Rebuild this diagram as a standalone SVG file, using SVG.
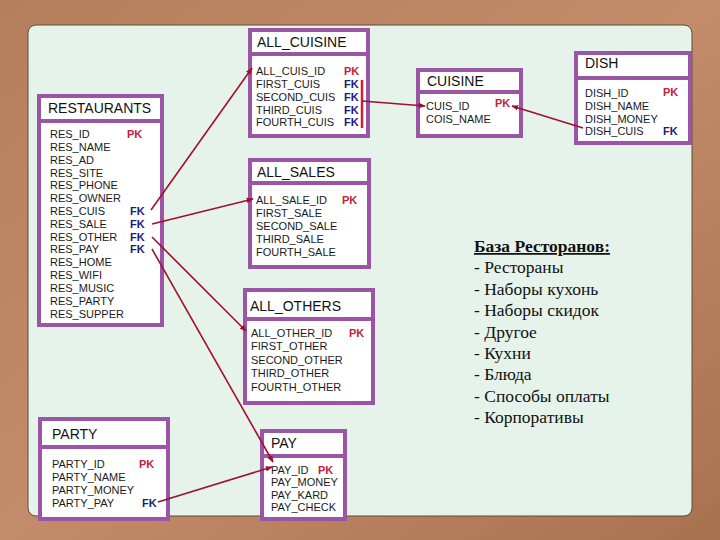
<svg xmlns="http://www.w3.org/2000/svg" width="720" height="540" viewBox="0 0 720 540">
<defs>
<linearGradient id="wood" x1="0" y1="0" x2="1" y2="1">
<stop offset="0" stop-color="#b57f5c"/>
<stop offset="0.5" stop-color="#c28c6a"/>
<stop offset="1" stop-color="#a8714f"/>
</linearGradient>
<marker id="arr" viewBox="0 0 10 10" refX="9" refY="5" markerWidth="7" markerHeight="7" orient="auto" markerUnits="userSpaceOnUse">
<path d="M0,1 L10,5 L0,9 z" fill="#a0102a"/>
</marker>
<style>
.tb{fill:#ffffff;stroke:#9b55a5;stroke-width:4}
.sep{stroke:#9b55a5;stroke-width:4}
.ttl{font-family:"Liberation Sans",Arial,sans-serif;font-size:14px;fill:#111}
.fld{font-family:"Liberation Sans",Arial,sans-serif;font-size:11px;fill:#1a1a1a}
.pk{font-family:"Liberation Sans",Arial,sans-serif;font-size:11px;font-weight:bold;fill:#c8203a}
.fk{font-family:"Liberation Sans",Arial,sans-serif;font-size:11px;font-weight:bold;fill:#1c1c7a}
.con{stroke:#a0102a;stroke-width:1.6;fill:none}
.note{font-family:"Liberation Serif","Times New Roman",serif;font-size:17.5px;fill:#111}
</style>
</defs>
<rect x="0" y="0" width="720" height="540" fill="url(#wood)"/>
<rect x="28" y="25" width="664" height="491" rx="8" ry="8" fill="#e6f3ea" stroke="#5a4a3a" stroke-width="1"/>

<g id="ALL_CUISINE">
<rect class="tb" x="250" y="30" width="118" height="106"/>
<line class="sep" x1="250" y1="54" x2="368" y2="54"/>
<text class="ttl" x="257" y="47">ALL_CUISINE</text>
<text class="fld" x="256" y="75">ALL_CUIS_ID</text>
<text class="fld" x="256" y="88">FIRST_CUIS</text>
<text class="fld" x="256" y="101">SECOND_CUIS</text>
<text class="fld" x="256" y="114">THIRD_CUIS</text>
<text class="fld" x="256" y="126">FOURTH_CUIS</text>
<text class="pk" x="344" y="75">PK</text>
<text class="fk" x="344" y="88">FK</text>
<text class="fk" x="344" y="101">FK</text>
<text class="fk" x="344" y="114">FK</text>
<text class="fk" x="344" y="126">FK</text>
<line x1="362" y1="80" x2="362" y2="128" stroke="#d02030" stroke-width="2.5"/>
</g>

<g id="CUISINE">
<rect class="tb" x="418" y="70" width="103" height="66"/>
<line class="sep" x1="418" y1="92" x2="521" y2="92"/>
<text class="ttl" x="427" y="86">CUISINE</text>
<text class="fld" x="426" y="110">CUIS_ID</text>
<text class="fld" x="426" y="123">COIS_NAME</text>
<text class="pk" x="495" y="107">PK</text>
</g>

<g id="DISH">
<rect class="tb" x="576" y="53" width="114" height="90"/>
<line class="sep" x1="576" y1="78" x2="690" y2="78"/>
<text class="ttl" x="585" y="68">DISH</text>
<text class="fld" x="585" y="97">DISH_ID</text>
<text class="fld" x="585" y="110">DISH_NAME</text>
<text class="fld" x="585" y="123">DISH_MONEY</text>
<text class="fld" x="585" y="135">DISH_CUIS</text>
<text class="pk" x="663" y="96">PK</text>
<text class="fk" x="663" y="135">FK</text>
</g>

<g id="RESTAURANTS">
<rect class="tb" x="39" y="96" width="123" height="229"/>
<line class="sep" x1="39" y1="121" x2="162" y2="121"/>
<text class="ttl" x="48" y="113">RESTAURANTS</text>
<text class="fld" x="50" y="138">RES_ID</text>
<text class="fld" x="50" y="151">RES_NAME</text>
<text class="fld" x="50" y="164">RES_AD</text>
<text class="fld" x="50" y="177">RES_SITE</text>
<text class="fld" x="50" y="189">RES_PHONE</text>
<text class="fld" x="50" y="202">RES_OWNER</text>
<text class="fld" x="50" y="215">RES_CUIS</text>
<text class="fld" x="50" y="228">RES_SALE</text>
<text class="fld" x="50" y="241">RES_OTHER</text>
<text class="fld" x="50" y="253">RES_PAY</text>
<text class="fld" x="50" y="266">RES_HOME</text>
<text class="fld" x="50" y="279">RES_WIFI</text>
<text class="fld" x="50" y="292">RES_MUSIC</text>
<text class="fld" x="50" y="305">RES_PARTY</text>
<text class="fld" x="50" y="318">RES_SUPPER</text>
<text class="pk" x="127" y="138">PK</text>
<text class="fk" x="130" y="215">FK</text>
<text class="fk" x="130" y="228">FK</text>
<text class="fk" x="130" y="241">FK</text>
<text class="fk" x="130" y="253">FK</text>
</g>

<g id="ALL_SALES">
<rect class="tb" x="250" y="160" width="119" height="107"/>
<line class="sep" x1="250" y1="183" x2="369" y2="183"/>
<text class="ttl" x="257" y="177">ALL_SALES</text>
<text class="fld" x="256" y="204">ALL_SALE_ID</text>
<text class="fld" x="256" y="217">FIRST_SALE</text>
<text class="fld" x="256" y="230">SECOND_SALE</text>
<text class="fld" x="256" y="243">THIRD_SALE</text>
<text class="fld" x="256" y="256">FOURTH_SALE</text>
<text class="pk" x="342" y="204">PK</text>
</g>

<g id="ALL_OTHERS">
<rect class="tb" x="245" y="290" width="128" height="113"/>
<line class="sep" x1="245" y1="319" x2="373" y2="319"/>
<text class="ttl" x="250" y="311">ALL_OTHERS</text>
<text class="fld" x="251" y="337">ALL_OTHER_ID</text>
<text class="fld" x="251" y="350">FIRST_OTHER</text>
<text class="fld" x="251" y="364">SECOND_OTHER</text>
<text class="fld" x="251" y="377">THIRD_OTHER</text>
<text class="fld" x="251" y="391">FOURTH_OTHER</text>
<text class="pk" x="349" y="337">PK</text>
</g>

<g id="PARTY">
<rect class="tb" x="40" y="419" width="128" height="100"/>
<line class="sep" x1="40" y1="447" x2="168" y2="447"/>
<text class="ttl" x="52" y="439">PARTY</text>
<text class="fld" x="52" y="468">PARTY_ID</text>
<text class="fld" x="52" y="481">PARTY_NAME</text>
<text class="fld" x="52" y="494">PARTY_MONEY</text>
<text class="fld" x="52" y="507">PARTY_PAY</text>
<text class="pk" x="139" y="468">PK</text>
<text class="fk" x="142" y="507">FK</text>
</g>

<g id="PAY">
<rect class="tb" x="262" y="431" width="83" height="88"/>
<line class="sep" x1="262" y1="456" x2="345" y2="456"/>
<text class="ttl" x="271" y="448">PAY</text>
<text class="fld" x="271" y="474">PAY_ID</text>
<text class="fld" x="271" y="486">PAY_MONEY</text>
<text class="fld" x="271" y="499">PAY_KARD</text>
<text class="fld" x="271" y="511">PAY_CHECK</text>
<text class="pk" x="318" y="474">PK</text>
</g>

<g id="connectors">
<line class="con" x1="151" y1="210" x2="252" y2="68" marker-end="url(#arr)"/>
<line class="con" x1="152" y1="224" x2="253" y2="199" marker-end="url(#arr)"/>
<line class="con" x1="152" y1="237" x2="246" y2="331" marker-end="url(#arr)"/>
<line class="con" x1="152" y1="249" x2="273" y2="462" marker-end="url(#arr)"/>
<line class="con" x1="158" y1="502" x2="272" y2="467" marker-end="url(#arr)"/>
<line class="con" x1="362" y1="101" x2="425" y2="106" marker-end="url(#arr)"/>
<line class="con" x1="583" y1="128" x2="512" y2="106" marker-end="url(#arr)"/>
</g>

<g id="notes">
<text class="note" x="474" y="252" font-weight="bold" text-decoration="underline">База Ресторанов:</text>
<text class="note" x="474" y="273">- Рестораны</text>
<text class="note" x="474" y="295">- Наборы кухонь</text>
<text class="note" x="474" y="316">- Наборы скидок</text>
<text class="note" x="474" y="338">- Другое</text>
<text class="note" x="474" y="359">- Кухни</text>
<text class="note" x="474" y="380">- Блюда</text>
<text class="note" x="474" y="402">- Способы оплаты</text>
<text class="note" x="474" y="423">- Корпоративы</text>
</g>
</svg>
